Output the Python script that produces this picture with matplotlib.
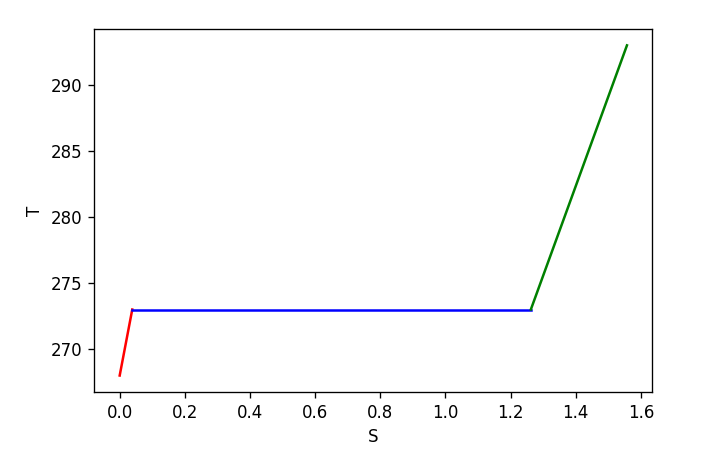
import matplotlib
matplotlib.use("Agg")
import matplotlib.pyplot as plt

# Ice heating (red), melting (blue), water heating (green)
s_ice = [0.0, 0.0386]
t_ice = [268, 273]
s_melt = [0.0386, 1.262]
t_melt = [273, 273]
s_water = [1.262, 1.557]
t_water = [273, 293]

fig = plt.figure(figsize=(6.0, 3.8167), dpi=120)
ax = fig.add_axes([0.131, 0.144, 0.775, 0.793])
ax.plot(s_ice, t_ice, color='r')
ax.plot(s_melt, t_melt, color='b')
ax.plot(s_water, t_water, color='g')
ax.set_xlabel('S')
ax.set_ylabel('T')
fig.savefig('out.png', dpi=120)
